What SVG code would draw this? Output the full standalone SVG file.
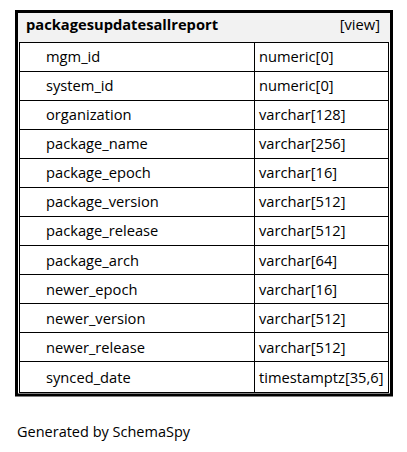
<svg xmlns="http://www.w3.org/2000/svg" width="407" height="452" viewBox="0 0 407 452">
  <style>
    .t { font-family: "Open Sans", "Noto Sans", sans-serif; font-size: 14.7px; fill: #000; }
    .b { font-weight: bold; }
    .foot { font-size: 14.5px; }
    .cell { fill: #fff; stroke: #000; stroke-width: 1; }
    .frame { fill: none; stroke: #000; stroke-width: 3; }
  </style>
  <rect width="407" height="452" fill="#fff"/>
  <g id="packagesupdatesallreport">
    <rect x="18" y="12" width="372" height="30" fill="#f2f2f2"/>
    <text class="t b" x="26" y="30">packagesupdatesallreport</text>
    <text class="t" x="380" y="30" text-anchor="end">[view]</text>
    <g id="columns">
      <rect class="cell" x="19.5" y="42.5" width="235" height="29"/>
      <rect class="cell" x="254.5" y="42.5" width="134" height="29"/>
      <text class="t" x="46" y="62">mgm_id</text><text class="t" x="259" y="62">numeric[0]</text>
      <rect class="cell" x="19.5" y="71.5" width="235" height="29"/>
      <rect class="cell" x="254.5" y="71.5" width="134" height="29"/>
      <text class="t" x="46" y="91">system_id</text><text class="t" x="259" y="91">numeric[0]</text>
      <rect class="cell" x="19.5" y="100.5" width="235" height="29"/>
      <rect class="cell" x="254.5" y="100.5" width="134" height="29"/>
      <text class="t" x="46" y="120">organization</text><text class="t" x="259" y="120">varchar[128]</text>
      <rect class="cell" x="19.5" y="129.5" width="235" height="29"/>
      <rect class="cell" x="254.5" y="129.5" width="134" height="29"/>
      <text class="t" x="46" y="149">package_name</text><text class="t" x="259" y="149">varchar[256]</text>
      <rect class="cell" x="19.5" y="158.5" width="235" height="29"/>
      <rect class="cell" x="254.5" y="158.5" width="134" height="29"/>
      <text class="t" x="46" y="178">package_epoch</text><text class="t" x="259" y="178">varchar[16]</text>
      <rect class="cell" x="19.5" y="187.5" width="235" height="29"/>
      <rect class="cell" x="254.5" y="187.5" width="134" height="29"/>
      <text class="t" x="46" y="207">package_version</text><text class="t" x="259" y="207">varchar[512]</text>
      <rect class="cell" x="19.5" y="216.5" width="235" height="29"/>
      <rect class="cell" x="254.5" y="216.5" width="134" height="29"/>
      <text class="t" x="46" y="236">package_release</text><text class="t" x="259" y="236">varchar[512]</text>
      <rect class="cell" x="19.5" y="245.5" width="235" height="29"/>
      <rect class="cell" x="254.5" y="245.5" width="134" height="29"/>
      <text class="t" x="46" y="266">package_arch</text><text class="t" x="259" y="266">varchar[64]</text>
      <rect class="cell" x="19.5" y="274.5" width="235" height="29"/>
      <rect class="cell" x="254.5" y="274.5" width="134" height="29"/>
      <text class="t" x="46" y="295">newer_epoch</text><text class="t" x="259" y="295">varchar[16]</text>
      <rect class="cell" x="19.5" y="303.5" width="235" height="29"/>
      <rect class="cell" x="254.5" y="303.5" width="134" height="29"/>
      <text class="t" x="46" y="324">newer_version</text><text class="t" x="259" y="324">varchar[512]</text>
      <rect class="cell" x="19.5" y="332.5" width="235" height="29"/>
      <rect class="cell" x="254.5" y="332.5" width="134" height="29"/>
      <text class="t" x="46" y="353">newer_release</text><text class="t" x="259" y="353">varchar[512]</text>
      <rect class="cell" x="19.5" y="361.5" width="235" height="31"/>
      <rect class="cell" x="254.5" y="361.5" width="134" height="31"/>
      <text class="t" x="46" y="383">synced_date</text><text class="t" x="259" y="383">timestamptz[35,6]</text>
    </g>
    <rect class="frame" x="16.5" y="11.5" width="375" height="383.5"/>
  </g>
  <text class="t foot" x="17" y="437">Generated by SchemaSpy</text>
</svg>
